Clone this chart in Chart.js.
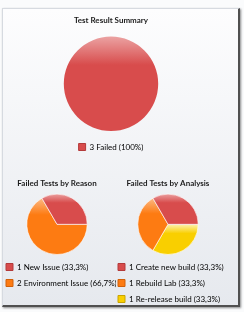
<!DOCTYPE html>
<html>
<head>
<meta charset="utf-8">
<script src="https://cdn.jsdelivr.net/npm/chart.js"></script>
<style>
  html, body { margin: 0; padding: 0; width: 244px; height: 312px; overflow: hidden; background: #fafbfc; }
  #panel {
    position: absolute; left: 2px; top: 8px; width: 235px; height: 296px;
    border: 1px solid #d6dae0; border-right: 2px solid #505050; border-bottom: 2px solid #505050;
    background: linear-gradient(#fdfdfe, #e6e9ee);
    box-shadow: 1px 1px 2px rgba(0, 0, 0, 0.45);
  }
  .box { position: absolute; }
</style>
</head>
<body>
<div id="panel"></div>
<div class="box" style="left:2px;top:10px;width:218px;height:151px"><canvas id="summary"></canvas></div>
<div class="box" style="left:-2px;top:170px;width:118px;height:127px"><canvas id="reason"></canvas></div>
<div class="box" style="left:110px;top:170px;width:116px;height:143px"><canvas id="analysis"></canvas></div>
<script>
// data
const summaryNames = ["Failed"];
const summaryCounts = [3];

const reasonNames = ["New Issue", "Environment Issue"];
const reasonCounts = [1, 2];

const analysisNames = ["Create new build", "Rebuild Lab", "Re-release build"];
const analysisCounts = [1, 1, 1];

// palette: base colour, light top highlight, box outline
const RED = ["#d84c4c", "#eba2a2", "#b33a3a"];
const ORANGE = ["#fd7b12", "#fcbb88", "#d0600a"];
const YELLOW = ["#f9cf00", "#fdf1b0", "#c9a400"];

const FONT = "Lato, 'Liberation Sans', sans-serif";

function pctText(v, total) {
  const p = (v / total * 100).toFixed(1).replace(/\.0$/, "");
  return p.replace(".", ",") + "%";
}

// vertical gradient per slice, light at the top edge of the slice
function sliceFill(c, counts, colors) {
  const i = c.dataIndex;
  const area = c.chart.chartArea;
  if (!area) return colors[i][0];
  const total = counts.reduce((a, b) => a + b, 0);
  let cum = 0;
  for (let k = 0; k < i; k++) cum += counts[k];
  const a0 = cum / total * Math.PI * 2;
  const a1 = (cum + counts[i]) / total * Math.PI * 2;
  let lo = Math.min(0, Math.sin(a0), Math.sin(a1));
  let hi = Math.max(0, Math.sin(a0), Math.sin(a1));
  if (a0 <= Math.PI / 2 && a1 >= Math.PI / 2) hi = 1;
  if (a0 <= Math.PI * 1.5 && a1 >= Math.PI * 1.5) lo = -1;
  const cy = (area.top + area.bottom) / 2;
  const r = Math.min(area.width, area.height) / 2;
  const top = cy + lo * r, bottom = cy + hi * r;
  const g = c.chart.ctx.createLinearGradient(0, top, 0, Math.max(bottom, top + 1));
  g.addColorStop(0, colors[i][1]);
  g.addColorStop(0.3, colors[i][0]);
  g.addColorStop(1, colors[i][0]);
  return g;
}

function makePie(id, title, names, counts, colors, opts) {
  const total = counts.reduce((a, b) => a + b, 0);
  const legendText = names.map((n, i) => counts[i] + " " + n + " (" + pctText(counts[i], total) + ")");
  // original draws counter-clockwise from 3 o'clock, so feed the slices reversed
  const revCounts = counts.slice().reverse();
  const revColors = colors.slice().reverse();

  return new Chart(document.getElementById(id), {
    type: "pie",
    data: {
      labels: legendText.slice().reverse(),
      datasets: [{
        data: revCounts,
        backgroundColor: (c) => sliceFill(c, revCounts, revColors),
        borderColor: "rgba(255,255,255,0.6)",
        borderWidth: counts.length > 1 ? 1 : 0,
        hoverOffset: 0,
      }],
    },
    options: {
      responsive: true,
      maintainAspectRatio: false,
      animation: false,
      rotation: 90,
      layout: { padding: 0 },
      plugins: {
        tooltip: { enabled: false },
        title: {
          display: true,
          text: title,
          color: "#1c1c1c",
          font: { family: FONT, size: 8, weight: "bold" },
          padding: opts.titlePadding,
        },
        legend: {
          display: true,
          position: "bottom",
          align: opts.align,
          labels: {
            color: "#2a2a2a",
            font: { family: FONT, size: 8 },
            boxWidth: 7,
            boxHeight: 7,
            padding: opts.legendPadding,
            generateLabels: () => legendText.map((text, i) => ({
              text: text,
              fillStyle: colors[i][0],
              strokeStyle: colors[i][2],
              lineWidth: 1,
              hidden: false,
              index: i,
              datasetIndex: 0,
            })),
          },
        },
      },
    },
  });
}

makePie("summary", "Test Result Summary", summaryNames, summaryCounts, [RED],
  { titlePadding: { top: 6, bottom: 11 }, legendPadding: 12, align: "center" });
makePie("reason", "Failed Tests by Reason", reasonNames, reasonCounts, [RED, ORANGE],
  { titlePadding: { top: 9, bottom: 5 }, legendPadding: 8, align: "start" });
makePie("analysis", "Failed Tests by Analysis", analysisNames, analysisCounts, [RED, ORANGE, YELLOW],
  { titlePadding: { top: 9, bottom: 5 }, legendPadding: 8, align: "start" });
</script>
</body>
</html>
